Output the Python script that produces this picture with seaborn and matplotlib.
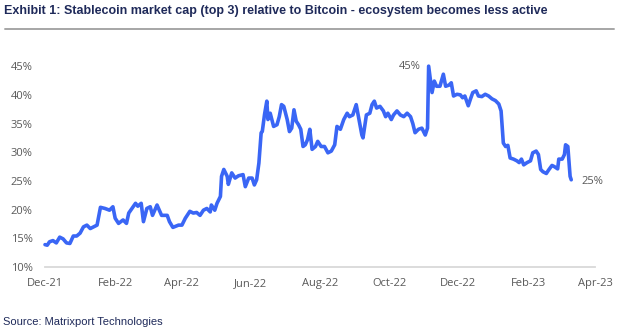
import numpy as np
import pandas as pd
import matplotlib
matplotlib.use("Agg")
import matplotlib.pyplot as plt
from matplotlib.ticker import FuncFormatter
import seaborn as sns

# ---- data ----
start_date = "2021-12-01"
day_offsets = [
    0, 2, 4, 7, 10, 13, 16, 19, 22, 25, 28, 31, 34, 37, 40, 43, 46, 49, 53, 57,
    60, 62, 65, 69, 72, 74, 80, 82, 85, 87, 90, 93, 95, 99, 103, 108, 110, 113,
    118, 121, 124, 128, 131, 134, 137, 140, 143, 146, 147, 150, 152, 155, 156,
    158, 161, 162, 165, 168, 171, 175, 177, 180, 183, 185, 187, 189, 191, 192,
    194, 196, 197, 199, 202, 205, 207, 209, 211, 214, 216, 218, 220, 222, 224,
    226, 228, 230, 232, 234, 236, 239, 241, 244, 247, 250, 253, 256, 258, 261,
    264, 267, 269, 272, 275, 277, 280, 281, 284, 287, 289, 291, 293, 296, 299,
    301, 303, 306, 308, 311, 314, 317, 320, 323, 325, 327, 330, 333, 336, 338,
    339, 342, 344, 346, 349, 352, 354, 357, 359, 361, 364, 367, 369, 371, 374,
    376, 378, 381, 383, 386, 389, 392, 395, 398, 401, 403, 405, 407, 409, 411,
    414, 417, 419, 421, 423, 426, 429, 431, 434, 436, 438, 440, 443, 445, 448,
    450, 453, 454, 457, 459, 460, 462, 464, 465,
]
ratio_pct = [
    13.9, 13.8, 14.4, 14.6, 14.2, 15.2, 14.9, 14.2, 14.1, 15.4, 15.4, 15.9, 17.0,
    17.3, 16.7, 17.0, 17.3, 20.4, 20.2, 19.9, 20.5, 18.5, 17.6, 18.2, 17.6, 19.4,
    21.1, 20.6, 21.1, 17.9, 20.2, 20.5, 19.0, 20.8, 19.0, 19.0, 17.9, 16.9, 17.3,
    17.3, 18.5, 19.7, 19.4, 19.5, 19.0, 19.9, 20.2, 19.6, 20.8, 19.9, 21.1, 22.3,
    25.8, 27.0, 25.8, 24.4, 26.4, 25.5, 25.9, 26.1, 24.0, 25.5, 25.5, 24.3, 25.2,
    28.1, 33.4, 33.6, 36.6, 38.9, 35.7, 36.8, 34.5, 34.8, 36.2, 38.3, 38.0, 35.7,
    33.6, 34.2, 37.4, 35.4, 34.8, 34.0, 31.0, 31.3, 32.2, 34.0, 30.5, 31.0, 31.9,
    31.0, 31.0, 29.9, 30.2, 31.3, 34.5, 34.0, 35.7, 36.8, 36.2, 36.5, 38.3, 36.2,
    33.0, 32.5, 36.5, 36.8, 38.3, 38.9, 37.7, 38.0, 37.2, 36.2, 36.8, 35.7, 36.5,
    37.2, 36.5, 36.2, 36.8, 36.2, 35.0, 33.4, 34.0, 34.2, 33.0, 34.2, 45.0, 40.4,
    42.4, 41.5, 41.5, 43.6, 41.5, 41.7, 42.1, 39.8, 40.1, 40.0, 39.5, 39.8, 38.1,
    39.3, 40.4, 40.7, 39.8, 39.7, 40.1, 39.8, 39.3, 39.0, 38.4, 37.2, 31.6, 31.0,
    31.2, 29.0, 28.8, 28.5, 28.2, 28.8, 27.8, 28.2, 28.5, 29.9, 30.2, 29.6, 27.0,
    26.6, 26.3, 26.9, 27.7, 27.5, 27.1, 28.8, 28.8, 29.6, 31.3, 31.0, 25.8, 25.2,
]
tick_labels = ["Dec-21", "Feb-22", "Apr-22", "Jun-22", "Aug-22", "Oct-22",
               "Dec-22", "Feb-23", "Apr-23"]
y_ticks = [10, 15, 20, 25, 30, 35, 40, 45]
peak_label = "45%"
end_label = "25%"
title = "Exhibit 1: Stablecoin market cap (top 3) relative to Bitcoin - ecosystem becomes less active"
source = "Source: Matrixport Technologies"

dates = pd.to_datetime(start_date) + pd.to_timedelta(day_offsets, unit="D")
df = pd.DataFrame({"date": dates, "ratio": ratio_pct})

sns.set_theme(style="white")
plt.rcParams["font.family"] = ["Liberation Sans", "DejaVu Sans"]

W, H = 624, 330
fig = plt.figure(figsize=(W / 100, H / 100), dpi=100)
fig.patch.set_facecolor("white")

ax = fig.add_axes([45 / W, 63 / H, (595 - 45) / W, (267 - 61) / H])
sns.lineplot(data=df, x="date", y="ratio", ax=ax, color="#3A66F5",
             linewidth=2.6, clip_on=False)

ax.set_xlim(pd.Timestamp("2021-12-01"), pd.Timestamp("2023-04-01"))
ax.set_ylim(10, 45.9)
tick_dates = pd.date_range("2021-12-01", "2023-04-01", freq="2MS")
ax.set_xticks(tick_dates)
ax.set_xticklabels(tick_labels)
ax.set_yticks(y_ticks)
ax.yaxis.set_major_formatter(FuncFormatter(lambda v, p: f"{v:.0f}%"))
ax.set_xlabel("")
ax.set_ylabel("")

for s in ["top", "right", "left"]:
    ax.spines[s].set_visible(False)
ax.spines["bottom"].set_color("#D9D9D9")
ax.spines["bottom"].set_linewidth(1.3)
ax.tick_params(axis="both", length=0, labelsize=8, colors="#595959")
ax.tick_params(axis="y", pad=9)
ax.tick_params(axis="x", pad=8)
for lab in ax.get_xticklabels() + ax.get_yticklabels():
    lab.set_fontfamily(["Open Sans", "DejaVu Sans"])
ax.grid(False)

# annotations
peak_i = int(np.argmax(ratio_pct))
ax.annotate(peak_label, (df["date"][peak_i], ratio_pct[peak_i]),
            xytext=(-6, 0), textcoords="offset points", ha="right", va="center",
            fontsize=8, color="#595959", family=["Open Sans", "DejaVu Sans"])
ax.annotate(end_label, (df["date"].iloc[-1], ratio_pct[-1]),
            xytext=(7, -1), textcoords="offset points", ha="left", va="center",
            fontsize=8, color="#595959", family=["Open Sans", "DejaVu Sans"])

# title, rule, source
fig.text(4 / W, 1 - 11 / H, title, fontsize=9.0, fontweight="bold",
         color="#1F2A5A", ha="left", va="center")
fig.add_artist(plt.Line2D([5 / W, 614 / W], [1 - 29 / H, 1 - 29 / H],
                          color="#A6A6A6", linewidth=1.4,
                          transform=fig.transFigure))
fig.text(3 / W, 1 - 322 / H, source, fontsize=8.0, color="#1F2A5A",
         ha="left", va="center")

fig.savefig("out.png", dpi=100, facecolor="white")
